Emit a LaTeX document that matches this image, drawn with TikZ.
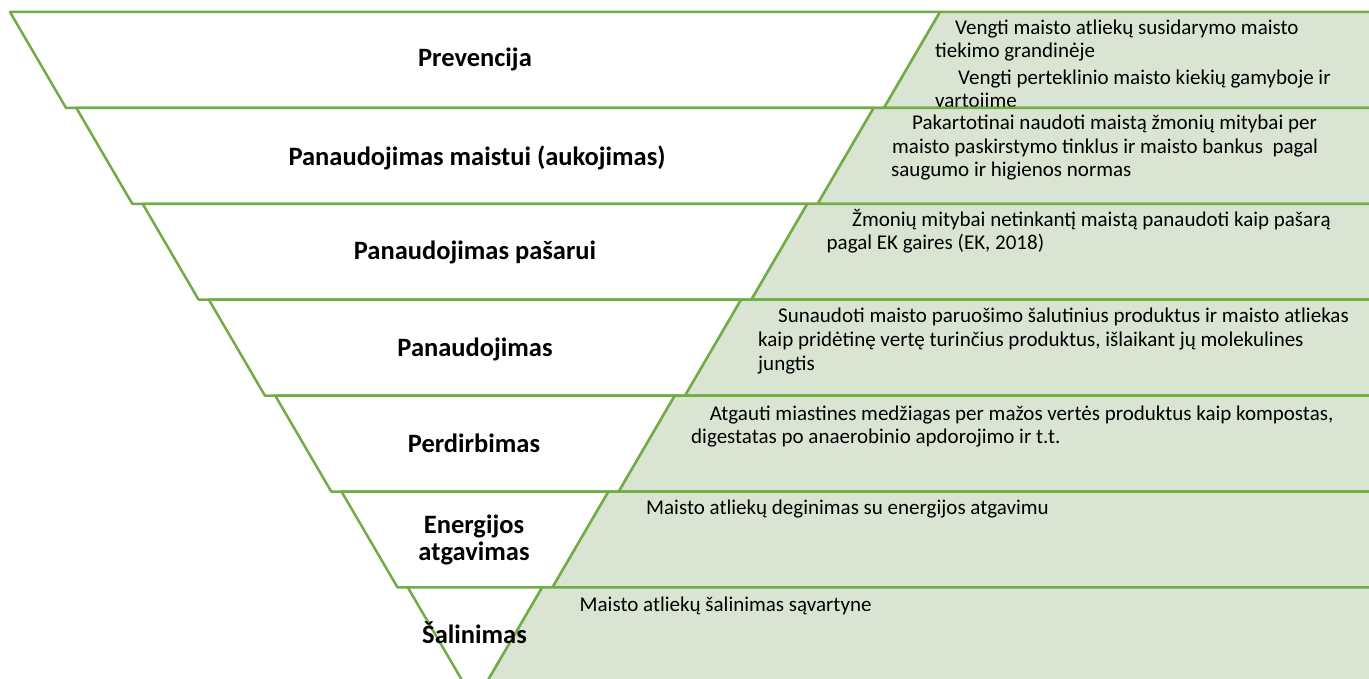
\documentclass[tikz,border=0pt]{standalone}
\usepackage{fontspec}
\setmainfont{Carlito}
\definecolor{edge}{HTML}{70AD47}
\definecolor{leaf}{RGB}{218,228,211}
\newcommand\bandrow[1]{%
  \pgfmathsetmacro\bYt{12+95.9*#1}%
  \pgfmathsetmacro\bYb{\bYt+95.9}%
  \pgfmathsetmacro\bLt{10+66.3*#1}%
  \pgfmathsetmacro\bLb{\bLt+56}%
  \pgfmathsetmacro\bGt{940-66.3*#1}%
  \pgfmathsetmacro\bGb{\bGt-56}%
  \filldraw[band, fill=white] (\bLt,\bYt) -- (\bGt,\bYt) -- (\bGb,\bYb) -- (\bLb,\bYb) -- cycle;
  \filldraw[band, fill=leaf] (\bGt,\bYt) -- (1385,\bYt) -- (1385,\bYb) -- (\bGb,\bYb) -- cycle;
}
\tikzset{
  band/.style={draw=edge, line width=2.5pt, line join=round},
  rt/.style={anchor=base west, inner sep=0pt, font=\fontsize{21}{23.5}\selectfont},
  lab/.style={anchor=base, inner sep=0pt, font=\fontsize{26.5}{29}\selectfont\bfseries}
}
\begin{document}
\begin{tikzpicture}[x=1pt, y=-1pt]
\useasboundingbox (0,0) rectangle (1369,679);
\fill[white] (0,0) rectangle (1369,679);
\clip (0,0) rectangle (1369,679);
% row 1
\bandrow{0}
\node[lab] (l1) at (475,66.7) {Prevencija};
\node[rt] (t1a) at (955,35) {Vengti maisto atliekų susidarymo maisto};
\node[rt] (t1b) at (935,58) {tiekimo grandinėje};
\node[rt] (t1c) at (958,85) {Vengti perteklinio maisto kiekių gamyboje ir};
\node[rt] (t1d) at (935,107.5) {vartojime};
% row 2
\bandrow{1}
\node[lab] (l2) at (477,166) {Panaudojimas maistui (aukojimas)};
\node[rt] (t2a) at (912,130) {Pakartotinai naudoti maistą žmonių mitybai per};
\node[rt] (t2b) at (892,153.5) {maisto paskirstymo tinklus ir maisto bankus\ \ pagal};
\node[rt] (t2c) at (891,177) {saugumo ir higienos normas};
% row 3
\bandrow{2}
\node[lab] (l3) at (475,260) {Panaudojimas pašarui};
\node[rt] (t3a) at (852,226.5) {Žmonių mitybai netinkantį maistą panaudoti kaip pašarą};
\node[rt] (t3b) at (826.5,250) {pagal EK gaires (EK, 2018)};
% row 4
\bandrow{3}
\node[lab] (l4) at (475,356.7) {Panaudojimas};
\node[rt] (t4a) at (778,323) {Sunaudoti maisto paruošimo šalutinius produktus ir maisto atliekas};
\node[rt] (t4b) at (758,346.5) {kaip pridėtinę vertę turinčius produktus, išlaikant jų molekulines};
\node[rt] (t4c) at (758,370) {jungtis};
% row 5
\bandrow{4}
\node[lab] (l5) at (474,452) {Perdirbimas};
\node[rt] (t5a) at (709.6,420) {Atgauti miastines medžiagas per mažos vertės produktus kaip kompostas,};
\node[rt] (t5b) at (691,443.5) {digestatas po anaerobinio apdorojimo ir t.t.};
% row 6
\bandrow{5}
\node[lab] (l6a) at (474,533.5) {Energijos};
\node[lab] (l6b) at (474,560) {atgavimas};
\node[rt] (t6a) at (646,514) {Maisto atliekų deginimas su energijos atgavimu};
% row 7
\bandrow{6}
\node[lab] (l7) at (474.5,643) {Šalinimas};
\node[rt] (t7a) at (579.5,611.5) {Maisto atliekų šalinimas sąvartyne};
\end{tikzpicture}
\end{document}
